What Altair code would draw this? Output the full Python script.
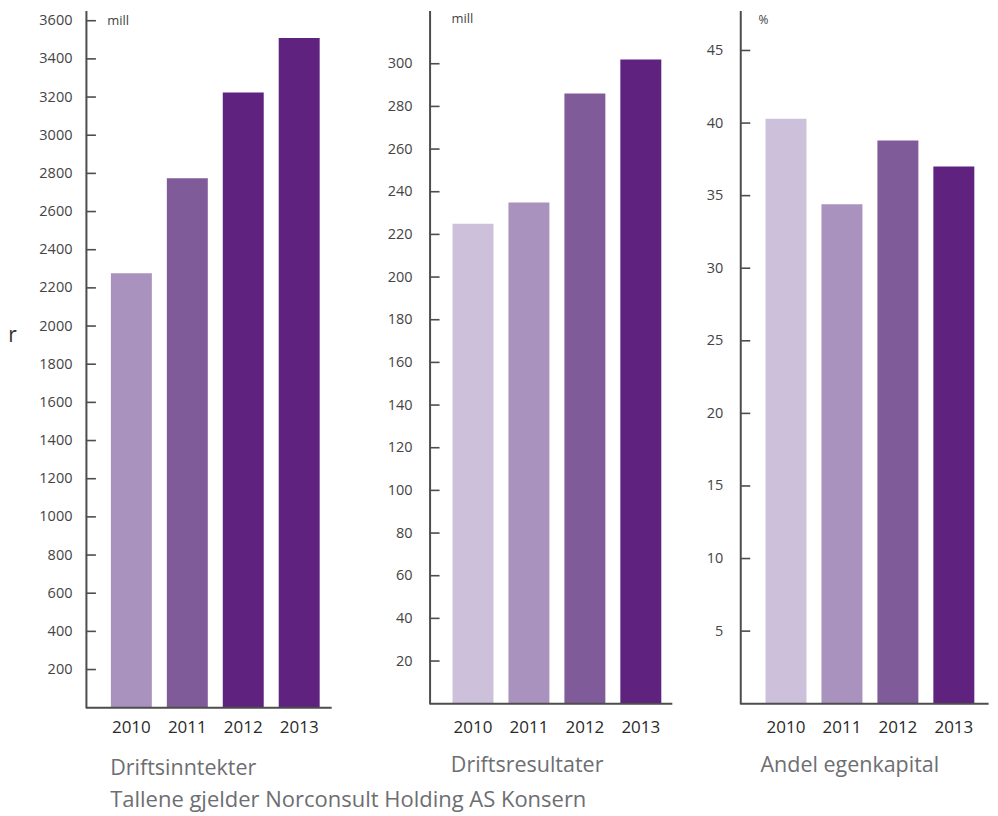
import altair as alt
import pandas as pd

# ---- data ----
years = ["2010", "2011", "2012", "2013"]
driftsinntekter = [2277, 2774, 3224, 3510]
driftsresultater = [225, 235, 286, 302]
egenkapital = [40.3, 34.4, 38.8, 37.0]

ticks_inn = [200, 400, 600, 800, 1000, 1200, 1400, 1600, 1800, 2000,
             2200, 2400, 2600, 2800, 3000, 3200, 3400, 3600]
ticks_res = [20, 40, 60, 80, 100, 120, 140, 160, 180, 200,
             220, 240, 260, 280, 300]
ticks_egk = [5, 10, 15, 20, 25, 30, 35, 40, 45]

titles = ["Driftsinntekter", "Driftsresultater", "Andel egenkapital"]
units = ["mill", "mill", "%"]
footer = ["Tallene gjelder Norconsult Holding AS Konsern"]
stray = ["r"]

# ---- styles ----
C_LIGHT = "#cdc0da"
C_MIDL = "#a992be"
C_MID = "#7f5b99"
C_DARK = "#5f237f"
colors_inn = [C_MIDL, C_MID, C_DARK, C_DARK]
colors_res = [C_LIGHT, C_MIDL, C_MID, C_DARK]
colors_egk = [C_LIGHT, C_MIDL, C_MID, C_DARK]

FONT = "Open Sans"
AXIS_COL = "#4d4d4d"
LABEL_COL = "#444444"
YEAR_COL = "#2a2a2a"
TITLE_COL = "#6d6e71"
P_INNER = 15 / 56


def panel(values, ticks, ymax, H, W, axis_len, p_outer, align, ylab_pad,
          year_pad, colors, unit, unit_xy, unit_size, title, title_xy,
          extras=None):
    df = pd.DataFrame({"year": years, "value": values})
    yscale = alt.Scale(domain=[0, ymax], nice=False, zero=True)
    yaxis = alt.Axis(title=None, values=ticks, format="d", ticks=False,
                     tickSize=0, grid=False, domainColor=AXIS_COL,
                     domainWidth=2, labelPadding=ylab_pad, labelFont=FONT,
                     labelFontSize=14.5, labelColor=LABEL_COL,
                     labelBaseline="middle")
    xenc = alt.X("year:N", sort=years,
                 scale=alt.Scale(paddingInner=P_INNER, paddingOuter=p_outer,
                                 align=align),
                 axis=alt.Axis(title=None, domain=False, ticks=False,
                               tickSize=0, labelAngle=0, labelFont=FONT,
                               labelFontSize=17, labelColor=YEAR_COL,
                               labelPadding=year_pad))
    bars = alt.Chart(df).mark_bar().encode(
        x=xenc,
        y=alt.Y("value:Q", scale=yscale, axis=yaxis),
        color=alt.Color("year:N", scale=alt.Scale(domain=years, range=colors),
                        legend=None),
    )
    tick_df = pd.DataFrame({"value": ticks})
    tick_rules = alt.Chart(tick_df).mark_rule(color=AXIS_COL, strokeWidth=1.6).encode(
        y=alt.Y("value:Q", scale=yscale, axis=yaxis),
        x=alt.value(0), x2=alt.value(10),
    )
    base_df = pd.DataFrame({"k": [0]})
    baseline = alt.Chart(base_df).mark_rule(color=AXIS_COL, strokeWidth=2).encode(
        x=alt.value(0), x2=alt.value(axis_len), y=alt.value(H),
    )
    unit_txt = alt.Chart(pd.DataFrame({"t": [unit]})).mark_text(
        align="left", baseline="alphabetic", font=FONT, fontSize=unit_size,
        color=LABEL_COL,
    ).encode(text="t:N", x=alt.value(unit_xy[0]), y=alt.value(unit_xy[1]))
    title_txt = alt.Chart(pd.DataFrame({"t": [title]})).mark_text(
        align="left", baseline="alphabetic", font=FONT, fontSize=21.5,
        color=TITLE_COL,
    ).encode(text="t:N", x=alt.value(title_xy[0]), y=alt.value(title_xy[1]))
    layers = [bars, tick_rules, baseline, unit_txt, title_txt]
    if extras:
        layers += extras
    return alt.layer(*layers).properties(width=W, height=H)


footer_txt = alt.Chart(pd.DataFrame({"t": footer})).mark_text(
    align="left", baseline="alphabetic", font=FONT, fontSize=22,
    color=TITLE_COL,
).encode(text="t:N", x=alt.value(24.3), y=alt.value(797))

stray_txt = alt.Chart(pd.DataFrame({"t": stray})).mark_text(
    align="left", baseline="alphabetic", font=FONT, fontSize=21,
    color="#333333",
).encode(text="t:N", x=alt.value(-77.7), y=alt.value(332))

SPACING = 30
p1 = panel(driftsinntekter, ticks_inn, 3654, 698, 314, 246, 0.9375, 0.238,
           14, 12, colors_inn, units[0], (21.3, 15), 13, titles[0], (24.3, 765),
           extras=[footer_txt, stray_txt])
p2 = panel(driftsresultater, ticks_res, 325, 694, 281, 243, 0.643, 0.319,
           17.6, 16, colors_res, units[1], (22, 13), 13, titles[1], (21.3, 762))
p3 = panel(egenkapital, ticks_egk, 47.76, 694, 249, 248.6, 0.3571, 0.6325,
           17.4, 16, colors_egk, units[2], (18.3, 14), 12, titles[2], (20.3, 762))

chart = alt.hconcat(p1, p2, p3, spacing=SPACING, bounds="flush").properties(
    padding={"left": 0, "top": 2, "right": 0, "bottom": 8}
).configure_view(stroke=None).resolve_scale(color="independent")

chart.save("out.html", embed_options={"renderer": "svg", "actions": False})
